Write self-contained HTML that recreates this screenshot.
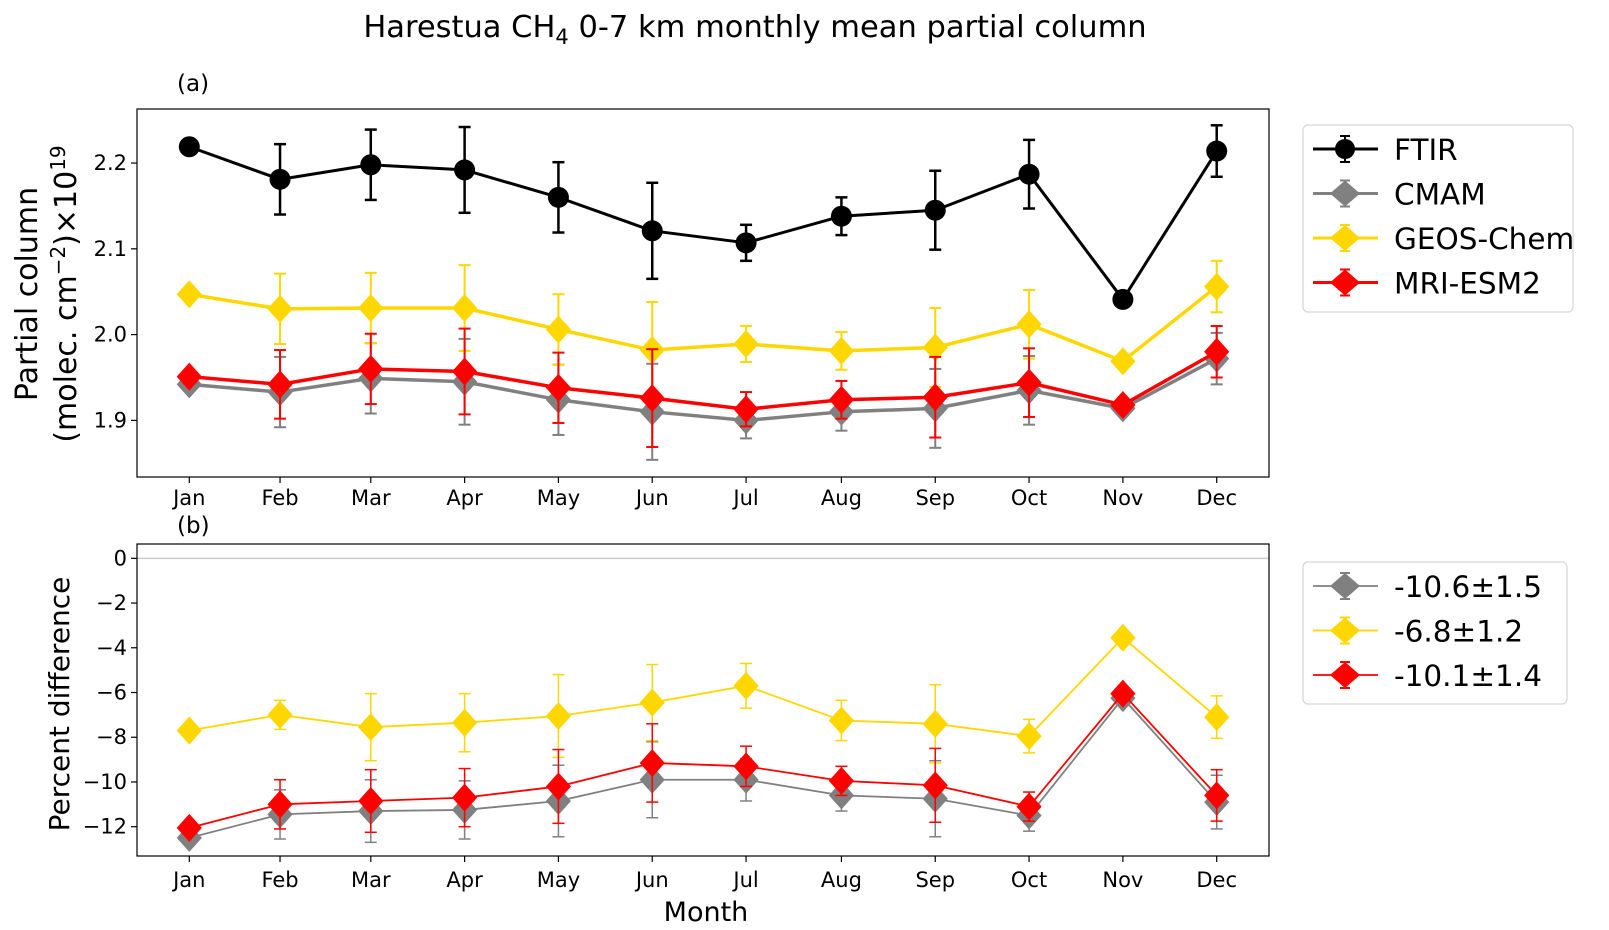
<!DOCTYPE html>
<html><head><meta charset="utf-8">
<style>
html,body{margin:0;padding:0;background:#fff;}
svg{display:block;font-family:"DejaVu Sans","Liberation Sans",sans-serif;}
</style></head>
<body>
<svg id="chart" width="1609" height="930" viewBox="0 0 1609 930" xmlns="http://www.w3.org/2000/svg">
<text x="755" y="37" font-size="30.5" text-anchor="middle">Harestua CH<tspan font-size="21" dy="7">4</tspan><tspan dy="-7"> 0-7 km monthly mean partial column</tspan></text>
<text x="177" y="91" font-size="23">(a)</text>
<text x="177" y="533" font-size="23">(b)</text>
<g id="top"></g>
<g id="bot"></g>
<g id="leg"></g>
</svg>
<script>
const months = ["Jan","Feb","Mar","Apr","May","Jun","Jul","Aug","Sep","Oct","Nov","Dec"];
const monthDays = [15.5,45,74.5,105,135.5,166,196.5,227.5,258,288.5,319,349.5];
const topTicks = [1.9,2.0,2.1,2.2];
const botTicks = [0,-2,-4,-6,-8,-10,-12];
const ftir = [2.219,2.181,2.198,2.192,2.160,2.121,2.107,2.138,2.145,2.187,2.041,2.214];
const ftirErr = [0,0.041,0.041,0.05,0.041,0.056,0.021,0.022,0.046,0.04,0,0.03];
const cmam = [1.942,1.933,1.949,1.945,1.924,1.910,1.900,1.910,1.914,1.935,1.914,1.972];
const cmamErr = [0,0.041,0.041,0.05,0.041,0.056,0.021,0.022,0.046,0.04,0,0.03];
const geos = [2.047,2.030,2.031,2.031,2.006,1.982,1.989,1.981,1.985,2.012,1.969,2.056];
const geosErr = [0,0.041,0.041,0.05,0.041,0.056,0.021,0.022,0.046,0.04,0,0.03];
const mri = [1.951,1.942,1.960,1.957,1.938,1.926,1.913,1.924,1.927,1.944,1.918,1.980];
const mriErr = [0,0.04,0.041,0.05,0.041,0.057,0.02,0.022,0.047,0.04,0,0.03];
const geosPct = [-7.7,-7.0,-7.55,-7.35,-7.05,-6.45,-5.7,-7.25,-7.4,-7.95,-3.55,-7.1];
const geosPctErr = [0,0.65,1.5,1.3,1.85,1.7,1.0,0.9,1.75,0.75,0,0.95];
const mriPct = [-12.05,-11.0,-10.85,-10.7,-10.2,-9.15,-9.3,-9.95,-10.15,-11.1,-6.05,-10.6];
const mriPctErr = [0,1.1,1.4,1.3,1.65,1.75,0.9,0.65,1.65,0.65,0,1.15];
const cmamPct = [-12.5,-11.45,-11.3,-11.25,-10.85,-9.9,-9.9,-10.6,-10.75,-11.5,-6.25,-10.9];
const cmamPctErr = [0,1.1,1.4,1.3,1.6,1.7,0.95,0.7,1.7,0.7,0,1.2];
const legendTop = ["FTIR","CMAM","GEOS-Chem","MRI-ESM2"];
const legendBot = ["-10.6\u00b11.5","-6.8\u00b11.2","-10.1\u00b11.4"];

const NS="http://www.w3.org/2000/svg";
function mk(parent,tag,attrs,text){const e=document.createElementNS(NS,tag);for(const k in attrs)e.setAttribute(k,attrs[k]);if(text!==undefined)e.textContent=text;parent.appendChild(e);return e;}
const X0=137,X1=1269,D0=-1.5,D1=366.5;
function xs(d){return X0+(d-D0)/(D1-D0)*(X1-X0);}
function mkY(top,bot,vTop,vBot){return v=>top+(vTop-v)/(vTop-vBot)*(bot-top);}
const yT=mkY(109,477,2.263,1.834);
const yB=mkY(544,856,0.64,-13.31);

function frame(g,top,bot,ticks,ys,fmt,labY){
  ticks.forEach(t=>{const y=ys(t);
    const tk=mk(g,'line',{x1:X0-6,x2:X0,y1:y,y2:y,stroke:'#000','stroke-width':1.2});
    
    const tl=mk(g,'text',{x:X0-10,y:y+7,'font-size':21,'text-anchor':'end'},fmt(t));
    });
  months.forEach((m,i)=>{const x=xs(monthDays[i]);
    const tk=mk(g,'line',{x1:x,x2:x,y1:bot,y2:bot+6,stroke:'#000','stroke-width':1.2});
    
    const tl=mk(g,'text',{x:x,y:labY,'font-size':21,'text-anchor':'middle'},m);
    });
}
function series(g,vals,errs,ys,color,lw,marker,ms,ew,name){
  const pts=vals.map((v,i)=>[xs(monthDays[i]),ys(v)]);
  vals.forEach((v,i)=>{if(!errs[i])return;const x=pts[i][0],a=ys(v+errs[i]),b=ys(v-errs[i]);
    const eg=mk(g,'g',{stroke:color,'stroke-width':ew});
    
    mk(eg,'line',{x1:x,x2:x,y1:a,y2:b});mk(eg,'line',{x1:x-6,x2:x+6,y1:a,y2:a});mk(eg,'line',{x1:x-6,x2:x+6,y1:b,y2:b});});
  const pl=mk(g,'polyline',{points:pts.map(p=>p.join(',')).join(' '),fill:'none',stroke:color,'stroke-width':lw,'stroke-linejoin':'round'});
  
  pts.forEach(p=>{let m;
    if(marker==='o')m=mk(g,'circle',{cx:p[0],cy:p[1],r:ms,fill:color});
    else m=mk(g,'polygon',{points:`${p[0]},${p[1]-ms} ${p[0]+ms*0.9},${p[1]} ${p[0]},${p[1]+ms} ${p[0]-ms*0.9},${p[1]}`,fill:color});
    });
}
const gt=document.getElementById('top'),gb=document.getElementById('bot'),gl=document.getElementById('leg');
frame(gt,109,477,topTicks,yT,t=>t.toFixed(1),505);
series(gt,cmam,cmamErr,yT,'#808080',3.5,'D',14,2,'cmam');
series(gt,geos,geosErr,yT,'#ffd700',3.5,'D',14,2,'geos-chem');
series(gt,mri,mriErr,yT,'#ff0000',3.5,'D',14,2,'mri-esm2');
series(gt,ftir,ftirErr,yT,'#000000',3,'o',10.5,2.5,'ftir');
mk(gt,'rect',{x:X0,y:109,width:X1-X0,height:368,fill:'none',stroke:'#000','stroke-width':1.2});
const ylt=mk(gt,'text',{transform:'translate(37,294) rotate(-90)','font-size':30,'text-anchor':'middle'},'Partial column');

const ylt2=mk(gt,'text',{transform:'translate(76,294) rotate(-90)','font-size':30,'text-anchor':'middle'});

ylt2.innerHTML='(molec. cm<tspan dy="-11" font-size="20">\u22122</tspan><tspan dy="11">)\u00d710</tspan><tspan dy="-11" font-size="20">19</tspan>';

mk(gb,'line',{x1:X0,x2:X1,y1:yB(0),y2:yB(0),stroke:'#cccccc','stroke-width':1.5});
frame(gb,544,856,botTicks,yB,t=>t===0?'0':'\u2212'+Math.abs(t),887);
series(gb,cmamPct,cmamPctErr,yB,'#808080',1.8,'D',14,1.5,'cmam-pct');
series(gb,geosPct,geosPctErr,yB,'#ffd700',1.8,'D',14,1.5,'geos-pct');
series(gb,mriPct,mriPctErr,yB,'#ff0000',1.8,'D',14,1.5,'mri-pct');
mk(gb,'rect',{x:X0,y:544,width:X1-X0,height:312,fill:'none',stroke:'#000','stroke-width':1.2});
const ylb=mk(gb,'text',{transform:'translate(69,704) rotate(-90)','font-size':28,'text-anchor':'middle'},'Percent difference');

const xl=mk(gb,'text',{x:706,y:921,'font-size':27,'text-anchor':'middle'},'Month');


function legend(x,y,w,h,labels,colors,markers,lw,gap,first){
  const r=mk(gl,'rect',{x:x,y:y,width:w,height:h,rx:5,fill:'#fff',stroke:'#d6d6d6','stroke-width':1.2});
  
  labels.forEach((lab,i)=>{const cy=y+first+i*gap,c=colors[i];
    const e=mk(gl,'g',{});
    mk(e,'line',{x1:x+10,x2:x+75,y1:cy,y2:cy,stroke:c,'stroke-width':lw});
    mk(e,'line',{x1:x+42,x2:x+42,y1:cy-13,y2:cy+13,stroke:c,'stroke-width':2});
    mk(e,'line',{x1:x+37,x2:x+47,y1:cy-13,y2:cy-13,stroke:c,'stroke-width':2});
    mk(e,'line',{x1:x+37,x2:x+47,y1:cy+13,y2:cy+13,stroke:c,'stroke-width':2});
    if(markers[i]==='o')mk(e,'circle',{cx:x+42,cy:cy,r:10,fill:c});
    else mk(e,'polygon',{points:`${x+42},${cy-13} ${x+57},${cy} ${x+42},${cy+13} ${x+27},${cy}`,fill:c});
    mk(e,'text',{x:x+91,y:cy+11,'font-size':29.5},lab);});
}
legend(1303,125,270,187,legendTop,['#000','#808080','#ffd700','#ff0000'],['o','D','D','D'],3,44.5,24);
legend(1303,562,264,142,legendBot,['#808080','#ffd700','#ff0000'],['D','D','D'],1.8,44.5,24);
</script>
</body></html>
